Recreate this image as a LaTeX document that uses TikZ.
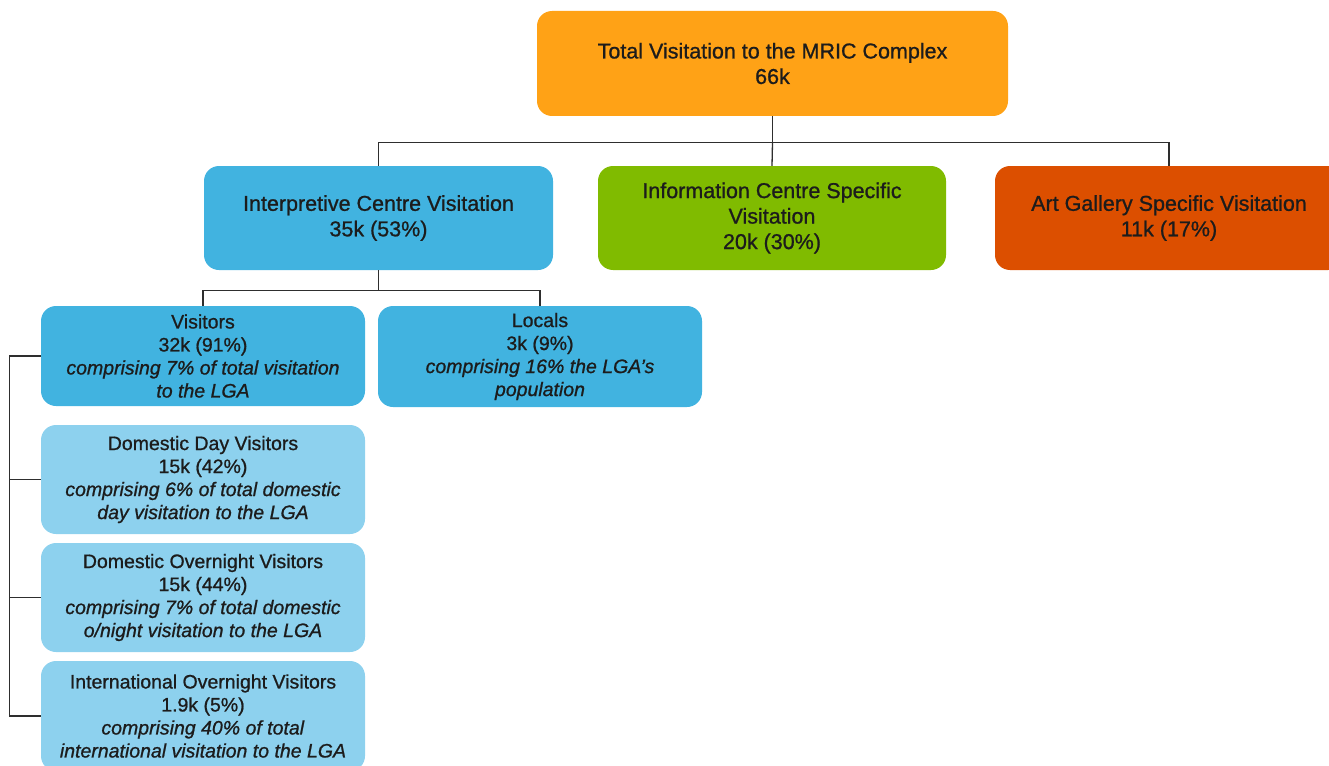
\documentclass[tikz,border=0pt]{standalone}
\usepackage{fontspec}
\setmainfont{Liberation Sans}[UprightFeatures={FakeBold=0.9},ItalicFeatures={FakeBold=0.9}]
\usetikzlibrary{calc}
\definecolor{topC}{HTML}{FFA216}
\definecolor{blueC}{HTML}{41B3E0}
\definecolor{greenC}{HTML}{80BB00}
\definecolor{redC}{HTML}{DC4F00}
\definecolor{paleC}{HTML}{8DD1EE}
\definecolor{txtC}{HTML}{1C1C1C}
\definecolor{lineC}{HTML}{2E2E2E}
\begin{document}
\begin{tikzpicture}[x=1pt,y=-1pt,
  box/.style={rectangle, rounded corners=15pt, inner sep=0pt, align=center,
    text=txtC, draw=none},
  lvlA/.style={box, font=\fontsize{21.5}{25.5}\selectfont},
  lvlB/.style={box, font=\fontsize{19.5}{23}\selectfont,
    minimum width=324pt},
  link/.style={draw=lineC, line width=1.3pt}
]
\useasboundingbox (0,0) rectangle (1329,765);
\clip (0,0) rectangle (1329,765);

% top level
\node[lvlA, fill=topC, minimum width=471pt, minimum height=105pt]
  (total) at (772.5,63.5) {Total Visitation to the MRIC Complex\\66k};

% second level
\node[lvlA, fill=blueC, minimum width=349pt, minimum height=104pt]
  (interp) at (378.5,218) {Interpretive Centre Visitation\\35k (53\%)};
\node[lvlA, fill=greenC, minimum width=348pt, minimum height=104pt]
  (info) at (772,218) {Information Centre Specific\\Visitation\\20k (30\%)};
\node[lvlA, fill=redC, minimum width=348pt, minimum height=104pt]
  (art) at (1169,218) {Art Gallery Specific Visitation\\11k (17\%)};

% third level
\node[lvlB, fill=blueC, minimum height=100pt] (visitors) at (203,356)
  {Visitors\\32k (91\%)\\\textit{comprising 7\% of total visitation}\\\textit{to the LGA}};
\node[lvlB, fill=blueC, minimum height=101pt] (locals) at (540,356.5)
  {Locals\\3k (9\%)\\\textit{comprising 16\% the LGA’s}\\\textit{population}};

% visitor breakdown
\node[lvlB, fill=paleC, minimum height=109pt] (dday) at (203,479.5)
  {Domestic Day Visitors\\15k (42\%)\\\textit{comprising 6\% of total domestic}\\\textit{day visitation to the LGA}};
\node[lvlB, fill=paleC, minimum height=109pt] (dnight) at (203,597.5)
  {Domestic Overnight Visitors\\15k (44\%)\\\textit{comprising 7\% of total domestic}\\\textit{o/night visitation to the LGA}};
\node[lvlB, fill=paleC, minimum height=110pt] (intl) at (203,716)
  {International Overnight Visitors\\1.9k (5\%)\\\textit{comprising 40\% of total}\\\textit{international visitation to the LGA}};

% connectors from the top box
\coordinate (j1) at ($(total.south)+(0,26)$);
\draw[link] (total.south) -- (j1);
\draw[link] (j1) -| (interp.north);
\draw[link] (j1) -| (art.north);
\draw[link] (j1) -- (info.north);

% connectors from the interpretive centre
\coordinate (j2) at ($(interp.south)+(0,20)$);
\draw[link] (interp.south) -- (j2);
\draw[link] (j2) -| (visitors.north);
\draw[link] (j2) -| (locals.north);

% side bus for the visitor breakdown
\coordinate (bus) at ($(visitors.west)+(-31,0)$);
\draw[link] (visitors.west) -- (bus) |- (intl.west);
\draw[link] (bus) |- (dday.west);
\draw[link] (bus) |- (dnight.west);
\end{tikzpicture}
\end{document}
